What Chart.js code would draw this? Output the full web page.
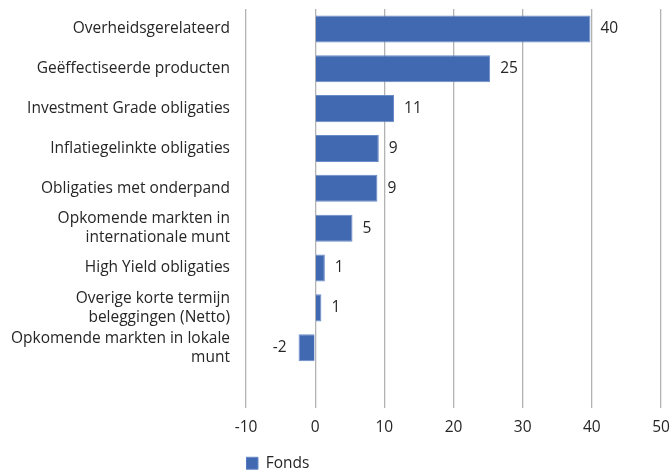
<!DOCTYPE html>
<html>
<head>
<meta charset="utf-8">
<script src="https://cdn.jsdelivr.net/npm/chart.js@4"></script>
<style>
  html, body { margin: 0; padding: 0; background: #fff; }
  #wrap { width: 671px; height: 473px; }
</style>
</head>
<body>
<div id="wrap"><canvas id="chart"></canvas></div>
<script>
// categories (last one empty, leaves blank band at the bottom like the original)
const categories = [
  'Overheidsgerelateerd',
  'Geëffectiseerde producten',
  'Investment Grade obligaties',
  'Inflatiegelinkte obligaties',
  'Obligaties met onderpand',
  ['Opkomende markten in', 'internationale munt'],
  'High Yield obligaties',
  ['Overige korte termijn', 'beleggingen (Netto)'],
  ['Opkomende markten in lokale', 'munt'],
  '',
];
const fondsValues = [39.8, 25.3, 11.4, 9.2, 9.0, 5.4, 1.4, 0.9, -2.4, null];
const fondsLabels = ['40', '25', '11', '9', '9', '5', '1', '1', '-2', ''];
const xTicks = [-10, 0, 10, 20, 30, 40, 50];

const textColor = '#262626';
const fontFamily = '"Open Sans", "Noto Sans", sans-serif';
const fontSize = 15.5;

// waarden naast de balken tekenen
const valueLabelPlugin = {
  id: 'valueLabels',
  afterDatasetsDraw(chart) {
    const ctx = chart.ctx;
    const meta = chart.getDatasetMeta(0);
    ctx.save();
    ctx.font = fontSize + 'px ' + fontFamily;
    ctx.fillStyle = textColor;
    ctx.textBaseline = 'middle';
    meta.data.forEach((bar, i) => {
      const v = fondsValues[i];
      if (v === null) return;
      if (v >= 0) {
        ctx.textAlign = 'left';
        ctx.fillText(fondsLabels[i], bar.x + 10, bar.y);
      } else {
        ctx.textAlign = 'right';
        ctx.fillText(fondsLabels[i], bar.x - 12, bar.y);
      }
    });
    ctx.restore();
  },
};

new Chart(document.getElementById('chart').getContext('2d'), {
  type: 'bar',
  data: {
    labels: categories,
    datasets: [{
      label: 'Fonds',
      data: fondsValues,
      backgroundColor: '#4169b2',
      borderColor: '#6a8cc8',
      borderWidth: 1,
      barPercentage: 0.68,
      categoryPercentage: 1,
    }],
  },
  options: {
    indexAxis: 'y',
    animation: false,
    responsive: true,
    maintainAspectRatio: false,
    layout: { padding: { top: 9, right: 10, left: 0, bottom: -8 } },
    plugins: {
      tooltip: { enabled: false },
      legend: {
        position: 'bottom',
        align: 'start',
        fullSize: false,
        labels: {
          boxWidth: 12,
          boxHeight: 12,
          padding: 0,
          color: textColor,
          font: { family: fontFamily, size: fontSize },
        },
      },
    },
    scales: {
      x: {
        min: -10,
        max: 50,
        afterBuildTicks: (scale) => {
          scale.ticks = xTicks.map((v) => ({ value: v }));
        },
        afterFit: (scale) => {
          scale.height = 48;
          scale.paddingLeft = 0;
          scale.paddingRight = 0;
        },
        grid: { color: '#b3b3b3', lineWidth: 1.3, tickLength: 0, drawTicks: false },
        border: { display: false },
        ticks: {
          color: textColor,
          padding: 11,
          font: { family: fontFamily, size: fontSize },
        },
      },
      y: {
        afterFit: (scale) => {
          scale.width = 246;
          scale.paddingTop = 0;
          scale.paddingBottom = 0;
        },
        grid: { display: false, drawTicks: false },
        border: { display: false },
        ticks: {
          autoSkip: false,
          color: textColor,
          padding: 16,
          font: { family: fontFamily, size: fontSize, lineHeight: 1.22 },
        },
      },
    },
  },
  plugins: [valueLabelPlugin],
});
</script>
</body>
</html>
